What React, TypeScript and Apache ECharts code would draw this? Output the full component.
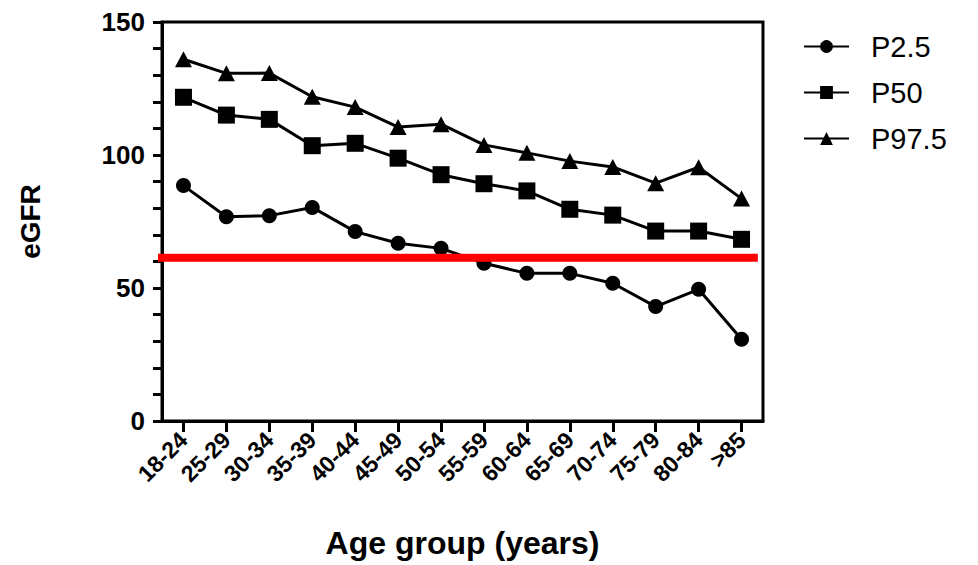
import React, { useEffect, useRef } from "react";
import * as echarts from "echarts";

const ageGroups = [
  "18-24", "25-29", "30-34", "35-39", "40-44", "45-49", "50-54",
  "55-59", "60-64", "65-69", "70-74", "75-79", "80-84", ">85",
];

const p2_5 = [88.5, 76.8, 77.2, 80.3, 71.2, 66.8, 64.9, 59.3, 55.5, 55.5, 51.8, 43.0, 49.5, 30.7];
const p50 = [121.7, 115.0, 113.4, 103.5, 104.4, 98.8, 92.6, 89.2, 86.5, 79.6, 77.4, 71.4, 71.4, 68.3];
const p97_5 = [136.0, 130.7, 130.8, 121.9, 118.0, 110.5, 111.6, 103.8, 100.8, 97.7, 95.5, 89.4, 95.4, 83.6];

// Reference eGFR threshold, drawn across the age range
const thresholdValue = 61.4;
const thresholdSpan = [-0.71, 13.38];

const FONT = "'Liberation Sans', Arial, sans-serif";

export default function App() {
  const ref = useRef<HTMLDivElement>(null);

  useEffect(() => {
    if (!ref.current) return;
    const chart = echarts.init(ref.current, undefined, { renderer: "svg" });

    const lineSeries = (name: string, data: number[], symbol: string, size: number | number[]) => ({
      name,
      type: "line",
      xAxisIndex: 0,
      yAxisIndex: 0,
      data,
      symbol,
      symbolSize: size,
      showAllSymbol: true,
      lineStyle: { color: "#000", width: 3 },
      itemStyle: { color: "#000", borderColor: "#000", borderWidth: 0 },
      emphasis: { disabled: true },
      z: 3,
    });

    chart.setOption({
      animation: false,
      backgroundColor: "#fff",
      textStyle: { fontFamily: FONT },
      grid: {
        left: 162,
        right: 215,
        top: 22,
        bottom: 144,
        show: true,
        borderColor: "#000",
        borderWidth: 3,
        backgroundColor: "transparent",
      },
      legend: {
        orient: "vertical",
        left: 803,
        top: 32,
        padding: 0,
        itemWidth: 45,
        itemHeight: 16,
        itemGap: 17,
        data: ["P2.5", "P50", "P97.5"],
        textStyle: { fontSize: 29, color: "#000", fontFamily: FONT, padding: [0, 0, 0, 17] },
        selectedMode: false,
      },
      xAxis: [
        {
          type: "category",
          data: ageGroups,
          boundaryGap: true,
          name: "Age group (years)",
          nameLocation: "middle",
          nameGap: 106,
          nameTextStyle: { fontSize: 32, fontWeight: "bold", color: "#000", fontFamily: FONT },
          axisLine: { show: true, lineStyle: { color: "#000", width: 3 } },
          axisTick: { show: true, alignWithLabel: true, length: 11, lineStyle: { color: "#000", width: 3 } },
          axisLabel: {
            rotate: 45,
            margin: 15,
            fontSize: 23,
            fontWeight: "bold",
            color: "#000",
            fontFamily: FONT,
            interval: 0,
          },
          splitLine: { show: false },
        },
        {
          type: "value",
          min: -0.5,
          max: 13.5,
          show: false,
          position: "bottom",
        },
      ],
      yAxis: {
        type: "value",
        min: 0,
        max: 150,
        interval: 10,
        name: "eGFR",
        nameLocation: "middle",
        nameGap: 118,
        nameTextStyle: { fontSize: 28, fontWeight: "bold", color: "#000", fontFamily: FONT },
        axisLine: { show: true, onZero: false, lineStyle: { color: "#000", width: 3 } },
        axisTick: { show: true, length: 9, lineStyle: { color: "#000", width: 3 } },
        axisLabel: {
          margin: 17,
          fontSize: 26,
          fontWeight: "bold",
          color: "#000",
          fontFamily: FONT,
          formatter: (v: number) => (v % 50 === 0 ? String(v) : ""),
        },
        splitLine: { show: false },
      },
      series: [
        lineSeries("P2.5", p2_5, "circle", 15),
        lineSeries("P50", p50, "rect", 17),
        lineSeries("P97.5", p97_5, "triangle", [17, 16]),
        {
          name: "threshold",
          type: "line",
          xAxisIndex: 1,
          yAxisIndex: 0,
          data: thresholdSpan.map((x) => [x, thresholdValue]),
          symbol: "none",
          clip: false,
          silent: true,
          lineStyle: { color: "#ff0000", width: 8 },
          z: 4,
        },
      ],
    });

    return () => chart.dispose();
  }, []);

  return (
    <div
      ref={ref}
      style={{ position: "absolute", left: 0, top: 0, width: 978, height: 565 }}
    />
  );
}
